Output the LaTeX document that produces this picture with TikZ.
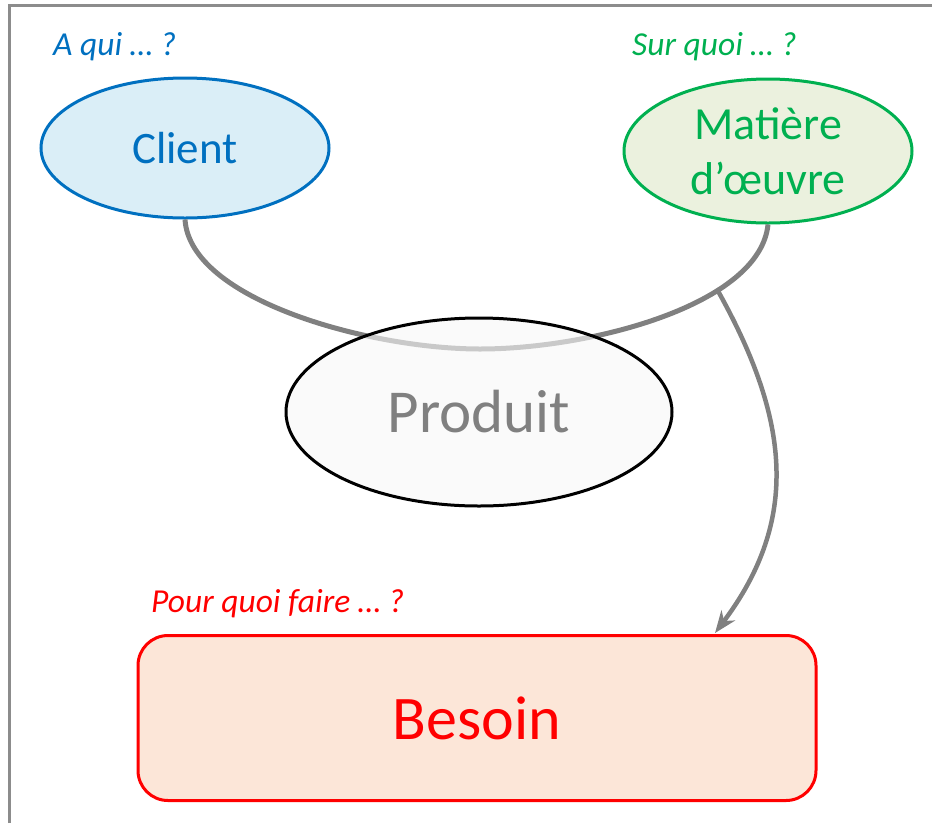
\documentclass[tikz,border=0pt]{standalone}
\usepackage{fontspec}
\setmainfont{Carlito}
\usetikzlibrary{shapes.geometric,arrows.meta}
\definecolor{cblue}{HTML}{0070C0}
\definecolor{cbluefill}{HTML}{DAEEF7}
\definecolor{cgreen}{HTML}{00B050}
\definecolor{cgreenfill}{HTML}{EBF1DE}
\definecolor{cred}{HTML}{FF0000}
\definecolor{credfill}{HTML}{FCE6D8}
\definecolor{cgray}{HTML}{808080}
\definecolor{cframe}{HTML}{8C8C8C}
\tikzset{
  blob/.style={ellipse, inner sep=0pt, line width=3pt},
  question/.style={anchor=base west, inner sep=0pt, font=\fontsize{33.5}{38}\selectfont\itshape},
  link/.style={draw=cgray, line width=5pt},
}
\begin{document}
\begin{tikzpicture}[x=1pt,y=-1pt]
\useasboundingbox (0,0) rectangle (932,823);
\draw[cframe, line width=2.5pt] (9.5,823) -- (9.5,5.5) -- (932,5.5);
% labels
\node[question, text=cblue] (qa) at (53,55) {A qui … ?};
\node[question, text=cgreen] (qs) at (632,55) {Sur quoi … ?};
\node[question, text=cred] (qp) at (151,612) {Pour quoi faire … ?};
% top ellipses
\node[blob, draw=cblue, fill=cbluefill, minimum width=288pt, minimum height=140pt,
      text=cblue, font=\fontsize{45}{54}\selectfont] (client) at (185,148) {Client};
\node[blob, draw=cgreen, fill=cgreenfill, minimum width=288pt, minimum height=144pt,
      text=cgreen, align=center, font=\fontsize{46}{55}\selectfont] (matiere) at (768,151) {Matière\\d’œuvre};
% connectors
\coordinate (branch) at (718,291);
\coordinate (tip) at (715,633);
\draw[link] (client.south) .. controls (190,300) and (370,349) .. (480,349)
  .. controls (590,349) and (760,305) .. (matiere.south);
\draw[link, line width=4.5pt, -{Stealth[length=22pt,width=17pt,inset=7pt]}] (branch) .. controls (790,420) and (800,520) .. (tip);
% product
\node[blob, draw=black, fill=white!97!black, fill opacity=0.62, text opacity=1, minimum width=386pt, minimum height=188pt,
      text=cgray, font=\fontsize{61}{70}\selectfont] (produit) at (479,412) {Produit};
% besoin
\node[draw=cred, fill=credfill, line width=3pt, rounded corners=30pt, minimum width=678pt, minimum height=165pt,
      text=cred, font=\fontsize{62}{70}\selectfont] (besoin) at (477,718) {Besoin};
\end{tikzpicture}
\end{document}
